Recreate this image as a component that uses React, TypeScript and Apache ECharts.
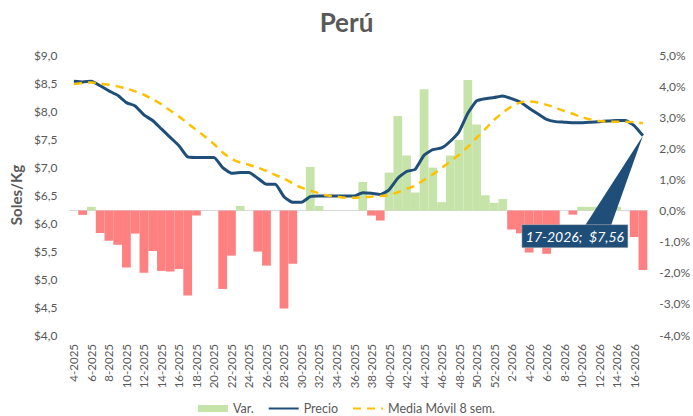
import React, { useEffect, useRef } from "react";
import * as echarts from "echarts";

const weeks = [
  "4-2025", "5-2025", "6-2025", "7-2025", "8-2025", "9-2025", "10-2025", "11-2025", "12-2025", "13-2025",
  "14-2025", "15-2025", "16-2025", "17-2025", "18-2025", "19-2025", "20-2025", "21-2025", "22-2025", "23-2025",
  "24-2025", "25-2025", "26-2025", "27-2025", "28-2025", "29-2025", "30-2025", "31-2025", "32-2025", "33-2025",
  "34-2025", "35-2025", "36-2025", "37-2025", "38-2025", "39-2025", "40-2025", "41-2025", "42-2025", "43-2025",
  "44-2025", "45-2025", "46-2025", "47-2025", "48-2025", "49-2025", "50-2025", "51-2025", "52-2025",
  "1-2026", "2-2026", "3-2026", "4-2026", "5-2026", "6-2026", "7-2026", "8-2026", "9-2026", "10-2026",
  "11-2026", "12-2026", "13-2026", "14-2026", "15-2026", "16-2026", "17-2026",
];

const precio = [
  8.53, 8.52, 8.53, 8.45, 8.36, 8.28, 8.15, 8.09, 7.93, 7.83,
  7.68, 7.53, 7.38, 7.18, 7.17, 7.17, 7.17, 6.99, 6.89, 6.90,
  6.90, 6.80, 6.69, 6.69, 6.47, 6.37, 6.37, 6.47, 6.48, 6.48,
  6.48, 6.48, 6.48, 6.54, 6.53, 6.51, 6.59, 6.80, 6.92, 6.96,
  7.21, 7.31, 7.34, 7.46, 7.63, 7.96, 8.18, 8.22, 8.24, 8.27,
  8.22, 8.16, 8.05, 7.95, 7.85, 7.81, 7.80, 7.79, 7.79, 7.80,
  7.81, 7.82, 7.83, 7.83, 7.74, 7.56,
];

const mediaMovil = [
  8.48, 8.50, 8.51, 8.49, 8.47, 8.44, 8.40, 8.35, 8.29, 8.21,
  8.12, 8.01, 7.90, 7.78, 7.66, 7.54, 7.41, 7.26, 7.15, 7.08,
  7.04, 6.99, 6.93, 6.86, 6.79, 6.71, 6.63, 6.58, 6.53, 6.49,
  6.47, 6.45, 6.45, 6.46, 6.47, 6.48, 6.50, 6.55, 6.61, 6.67,
  6.77, 6.87, 6.98, 7.10, 7.22, 7.36, 7.52, 7.68, 7.84, 7.97,
  8.08, 8.15, 8.17, 8.15, 8.11, 8.06, 8.00, 7.95, 7.89, 7.85,
  7.82, 7.81, 7.81, 7.81, 7.80, 7.78,
];

const variacion = [
  0, -0.14, 0.12, -0.72, -0.97, -1.10, -1.83, -0.74, -2.00, -1.30,
  -1.94, -1.96, -1.88, -2.73, -0.16, 0, 0, -2.52, -1.45, 0.15,
  0, -1.32, -1.77, 0, -3.15, -1.71, 0, 1.40, 0.15, 0,
  0, 0, 0, 0.92, -0.16, -0.32, 1.22, 3.04, 1.77, 0.58,
  3.90, 1.38, 0.27, 1.77, 2.27, 4.20, 2.77, 0.49, 0.25, 0.37,
  -0.61, -0.73, -1.35, -1.10, -1.39, -0.50, 0, -0.13, 0.12, 0.12,
  0.12, 0.12, 0.12, 0, -0.85, -1.91,
];

const leftTicks = { min: 4, max: 9, interval: 0.5 };
const rightTicks = { min: -4, max: 5, interval: 1 };

const GRAY = "#595959";
const FONT = "Lato, 'Open Sans', sans-serif";
const GREEN = "#C6E3AA";
const RED = "#FF8080";
const BLUE = "#1F4E79";
const GOLD = "#FFC000";

export default function App() {
  const ref = useRef<HTMLDivElement>(null);

  useEffect(() => {
    if (!ref.current) return;
    const chart = echarts.init(ref.current, null, { renderer: "svg" });
    const option: any = {
      animation: false,
      backgroundColor: "#ffffff",
      textStyle: { fontFamily: FONT },
      title: {
        text: "Perú",
        left: "center",
        top: 4,
        textStyle: { fontFamily: FONT, fontWeight: "bold", fontSize: 26, color: GRAY },
      },
      grid: { left: 67, right: 42, top: 55, bottom: 81 },
      legend: {
        top: 402,
        left: "center",
        padding: 0,
        itemWidth: 30,
        itemHeight: 7,
        itemGap: 14,
        textStyle: { fontFamily: FONT, fontSize: 12.5, color: GRAY },
        data: [
          { name: "Var.", icon: "rect" },
          { name: "Precio", itemStyle: { opacity: 0 } },
          { name: "Media Móvil 8 sem.", itemStyle: { opacity: 0 } },
        ],
      },
      xAxis: {
        type: "category",
        data: weeks,
        boundaryGap: true,
        axisLine: { lineStyle: { color: "#D9D9D9", width: 1 } },
        axisTick: { show: false },
        axisLabel: { rotate: 90, interval: 1, fontSize: 11.5, color: GRAY, margin: 9, fontFamily: FONT },
        splitLine: { show: false },
      },
      yAxis: [
        {
          type: "value",
          min: leftTicks.min,
          max: leftTicks.max,
          interval: leftTicks.interval,
          name: "Soles/Kg",
          nameLocation: "middle",
          nameRotate: 90,
          nameGap: 42,
          nameTextStyle: { fontFamily: FONT, fontWeight: "bold", fontSize: 15, color: GRAY },
          axisLine: { show: false },
          axisTick: { show: false },
          splitLine: { show: false },
          axisLabel: {
            color: GRAY,
            fontSize: 12,
            margin: 12,
            fontFamily: FONT,
            formatter: (v: number) => "$" + v.toFixed(1).replace(".", ","),
          },
        },
        {
          type: "value",
          position: "right",
          min: rightTicks.min,
          max: rightTicks.max,
          interval: rightTicks.interval,
          axisLine: { show: false },
          axisTick: { show: false },
          splitLine: { show: false },
          axisLabel: {
            color: GRAY,
            fontSize: 12,
            margin: 12,
            fontFamily: FONT,
            formatter: (v: number) => v.toFixed(1).replace(".", ",") + "%",
          },
        },
      ],
      series: [
        {
          name: "Var.",
          type: "bar",
          yAxisIndex: 1,
          barCategoryGap: "0%",
          barGap: "0%",
          itemStyle: { color: GREEN },
          data: variacion.map((v) => ({
            value: v,
            itemStyle: { color: v >= 0 ? GREEN : RED },
          })),
          z: 1,
        },
        {
          name: "Precio",
          type: "line",
          yAxisIndex: 0,
          data: precio,
          symbol: "none",
          smooth: 0.15,
          lineStyle: { color: BLUE, width: 3 },
          itemStyle: { color: BLUE },
          z: 3,
        },
        {
          name: "Media Móvil 8 sem.",
          type: "line",
          yAxisIndex: 0,
          data: mediaMovil,
          symbol: "none",
          smooth: 0.3,
          lineStyle: { color: GOLD, width: 2.5, type: [8, 6] },
          itemStyle: { color: GOLD },
          z: 4,
        },
      ],
    };
    chart.setOption(option);

    const last = precio.length - 1;
    const p = chart.convertToPixel({ xAxisIndex: 0, yAxisIndex: 0 }, [weeks[last], precio[last]]) as number[];
    const bw = 106;
    const bh = 23;
    const bx = p[0] - 121;
    const by = p[1] + 89;
    const labelText =
      weeks[last] + ";  $" + precio[last].toFixed(2).replace(".", ",");
    chart.setOption({
      graphic: [
        {
          type: "polygon",
          z: 100,
          shape: {
            points: [
              [p[0] - 58, by + 1],
              [p[0] - 32, by + 1],
              [p[0], p[1]],
            ],
          },
          style: { fill: BLUE },
        },
        {
          type: "rect",
          z: 100,
          shape: { x: bx, y: by, width: bw, height: bh },
          style: { fill: BLUE, stroke: "#BFBFBF", lineWidth: 0.5 },
        },
        {
          type: "text",
          z: 101,
          x: bx + bw / 2,
          y: by + bh / 2,
          style: {
            text: labelText,
            fill: "#ffffff",
            fontSize: 14,
            fontStyle: "italic",
            fontFamily: FONT,
            align: "center",
            verticalAlign: "middle",
          },
        },
      ],
    });

    return () => chart.dispose();
  }, []);

  return (
    <div
      ref={ref}
      style={{ position: "absolute", left: 0, top: 0, width: 693, height: 416 }}
    />
  );
}
